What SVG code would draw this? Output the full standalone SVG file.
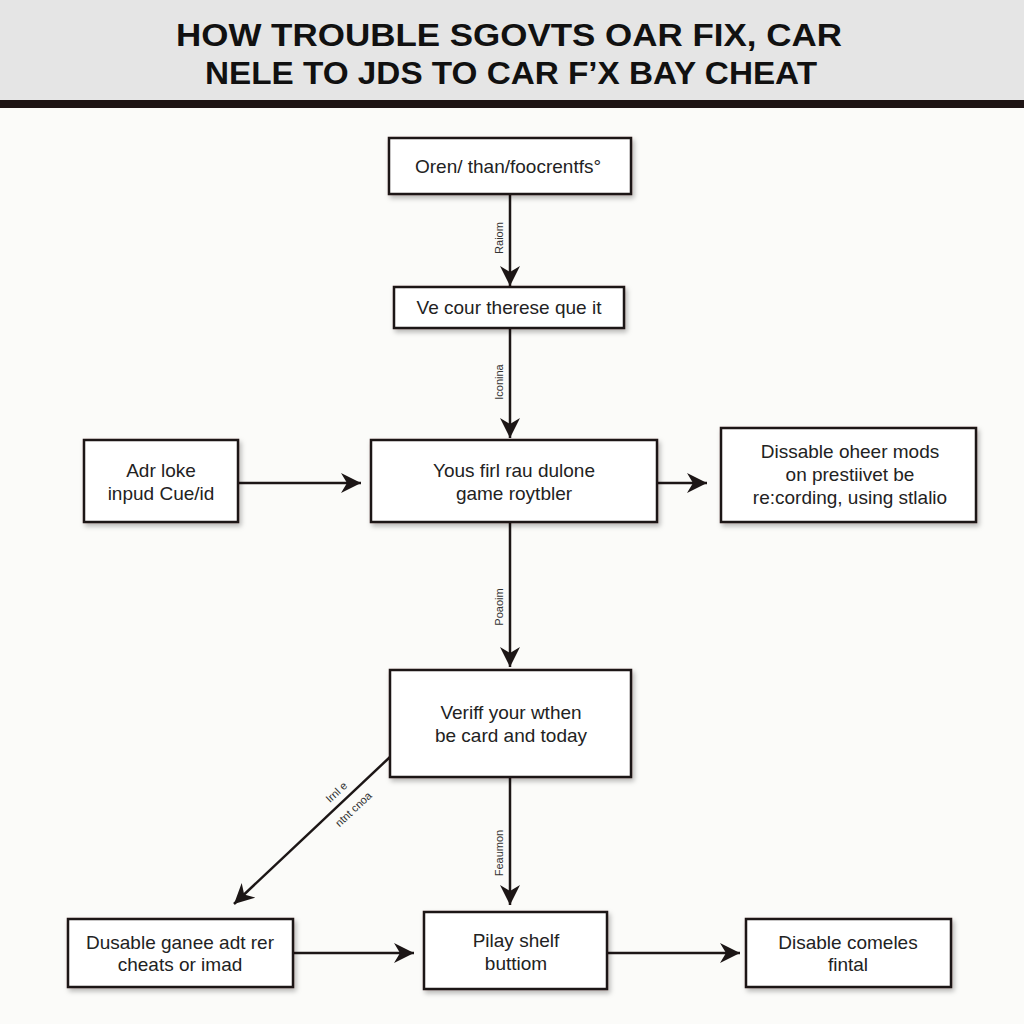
<svg xmlns="http://www.w3.org/2000/svg" width="1024" height="1024" viewBox="0 0 1024 1024">
<defs>
<filter id="sh" x="-10%" y="-10%" width="130%" height="140%">
<feDropShadow dx="2" dy="3" stdDeviation="2.5" flood-color="#000" flood-opacity="0.28"/>
</filter>
<marker id="ah" markerWidth="24" markerHeight="20" refX="20" refY="10" orient="auto" markerUnits="userSpaceOnUse">
<path d="M0,0 L20,10 L0,20 L6,10 Z" fill="#1c1616"/>
</marker>
</defs>
<style>
.box{fill:#fff;stroke:#1c1616;stroke-width:2.5;filter:url(#sh)}
.t{font-family:"Liberation Sans",Arial,sans-serif;font-size:19px;fill:#222;text-anchor:middle}
.c{stroke:#1c1616;stroke-width:2.5;fill:none;marker-end:url(#ah)}
.l{font-family:"Liberation Sans",Arial,sans-serif;font-size:11px;fill:#333;text-anchor:middle}
.title{font-family:"Liberation Sans",Arial,sans-serif;font-weight:bold;font-size:32px;fill:#111;text-anchor:middle}
</style>
<rect x="0" y="0" width="1024" height="1024" fill="#fbfbf9"/>
<rect x="0" y="0" width="1024" height="101" fill="#e5e5e5"/>
<rect x="0" y="100" width="1024" height="8" fill="#1e1414"/>
<text class="title" x="509" y="46" textLength="666" lengthAdjust="spacingAndGlyphs">HOW TROUBLE SGOVTS OAR FIX, CAR</text>
<text class="title" x="511" y="84" textLength="612" lengthAdjust="spacingAndGlyphs">NELE TO JDS TO CAR F’X BAY CHEAT</text>

<g id="connectors">
<line class="c" x1="510" y1="195" x2="510" y2="286"/>
<text class="l" transform="translate(503,238) rotate(-90)">Raiom</text>
<line class="c" x1="510" y1="329" x2="510" y2="438"/>
<text class="l" transform="translate(503,382) rotate(-90)">Iconina</text>
<line class="c" x1="239" y1="483" x2="361" y2="483"/>
<line class="c" x1="658" y1="483" x2="707" y2="483"/>
<line class="c" x1="510" y1="523" x2="510" y2="667"/>
<text class="l" transform="translate(503,607) rotate(-90)">Poaoim</text>
<line class="c" x1="390" y1="757" x2="234" y2="904"/>
<text class="l" transform="translate(339,795) rotate(-43)">Irnl e</text>
<text class="l" transform="translate(356,812) rotate(-43)">ntnt cnoa</text>
<line class="c" x1="510" y1="778" x2="510" y2="905"/>
<text class="l" transform="translate(503,853) rotate(-90)">Feaumon</text>
<line class="c" x1="294" y1="953" x2="414" y2="953"/>
<line class="c" x1="608" y1="953" x2="740" y2="953"/>
</g>

<g id="n1"><rect class="box" x="389" y="138" width="242" height="56"/>
<text class="t" x="508" y="173">Oren/ than/foocrentfs°</text></g>
<g id="n2"><rect class="box" x="394" y="287" width="230" height="41"/>
<text class="t" x="509" y="314">Ve cour therese que it</text></g>
<g id="n3"><rect class="box" x="84" y="440" width="154" height="82"/>
<text class="t" x="161" y="477">Adr loke</text>
<text class="t" x="161" y="500">inpud Cue/id</text></g>
<g id="n4"><rect class="box" x="371" y="440" width="286" height="82"/>
<text class="t" x="514" y="477">Yous firl rau dulone</text>
<text class="t" x="514" y="500">game roytbler</text></g>
<g id="n5"><rect class="box" x="721" y="428" width="255" height="94"/>
<text class="t" x="850" y="458">Dissable oheer mods</text>
<text class="t" x="850" y="481">on prestiivet be</text>
<text class="t" x="850" y="504">re:cording, using stlalio</text></g>
<g id="n6"><rect class="box" x="390" y="670" width="241" height="107"/>
<text class="t" x="511" y="719">Veriff your wthen</text>
<text class="t" x="511" y="742">be card and today</text></g>
<g id="n7"><rect class="box" x="68" y="919" width="225" height="68"/>
<text class="t" x="180" y="949">Dusable ganee adt rer</text>
<text class="t" x="180" y="971">cheats or imad</text></g>
<g id="n8"><rect class="box" x="424" y="912" width="183" height="77"/>
<text class="t" x="516" y="947">Pilay shelf</text>
<text class="t" x="516" y="970">buttiom</text></g>
<g id="n9"><rect class="box" x="746" y="919" width="205" height="68"/>
<text class="t" x="848" y="949">Disable comeles</text>
<text class="t" x="848" y="971">fintal</text></g>
</svg>
